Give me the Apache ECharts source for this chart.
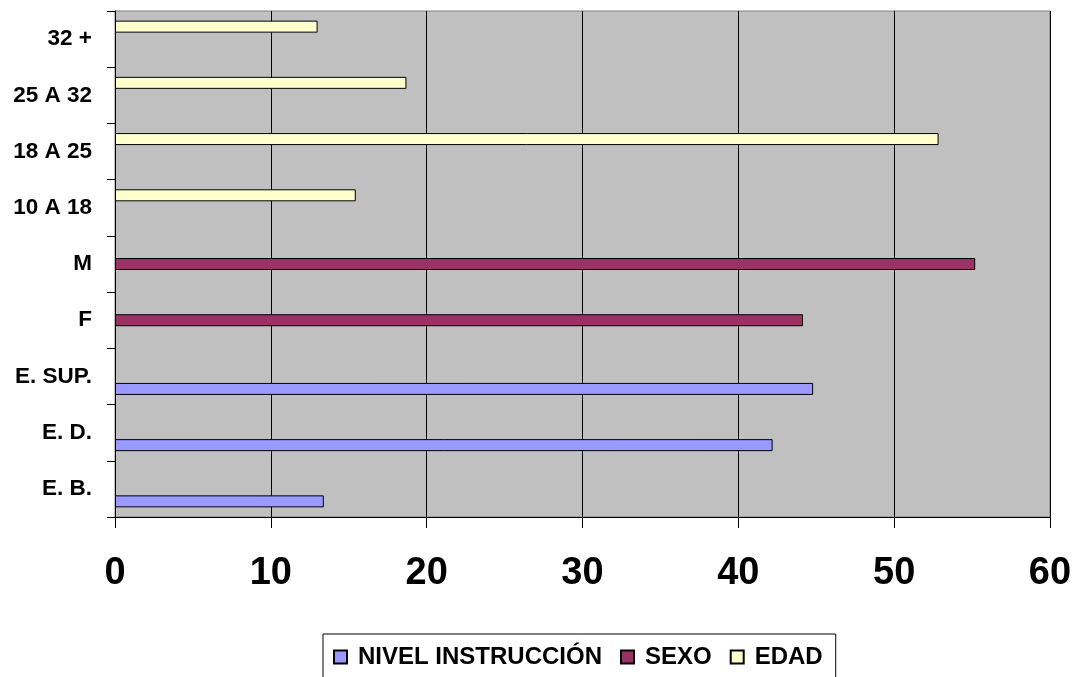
<!DOCTYPE html>
<html>
<head>
<meta charset="utf-8">
<script src="https://cdn.jsdelivr.net/npm/echarts@6/dist/echarts.min.js"></script>
<style>
html,body{margin:0;padding:0;background:#fff;}
#c{width:1077px;height:677px;}
</style>
</head>
<body>
<div id="c"></div>
<script>
const categories = ['E. B.', 'E. D.', 'E. SUP.', 'F', 'M', '10 A 18', '18 A 25', '25 A 32', '32 +'];
const nivelInstruccion = [13.4, 42.2, 44.8, null, null, null, null, null, null];
const sexo = [null, null, null, 44.15, 55.2, null, null, null, null];
const edad = [null, null, null, null, null, 15.45, 52.85, 18.7, 13.0];
const xTicks = [0, 10, 20, 30, 40, 50, 60];
const seriesNames = ['NIVEL INSTRUCCIÓN', 'SEXO', 'EDAD'];

const FONT = 'Arial, "Liberation Sans", sans-serif';
const chart = echarts.init(document.getElementById('c'), null, {renderer: 'canvas'});
function bar(name, data, color) {
  return {
    name: name, type: 'bar', data: data,
    barWidth: 12, barGap: '4%',
    itemStyle: {color: color, borderColor: '#000', borderWidth: 1}
  };
}
chart.setOption({
  animation: false,
  backgroundColor: '#fff',
  grid: {left: 115, right: 27, top: 11, bottom: 160, show: true,
         backgroundColor: '#C0C0C0', borderColor: '#808080', borderWidth: 1},
  legend: {
    data: seriesNames,
    top: 634, left: 323,
    padding: [9, 13, 10, 10],
    borderColor: '#000', borderWidth: 1,
    itemWidth: 13, itemHeight: 13, itemGap: 18,
    icon: 'rect',
    textStyle: {fontFamily: FONT, fontWeight: 'bold', fontSize: 24, lineHeight: 28, color: '#000', padding: [0,0,0,6]}
  },
  xAxis: {
    type: 'value', min: xTicks[0], max: xTicks[xTicks.length-1], interval: 10,
    axisLine: {show: true, lineStyle: {color: '#000', width: 1}},
    axisTick: {show: true, length: 11, lineStyle: {color: '#000'}},
    splitLine: {show: true, lineStyle: {color: '#000', width: 1}},
    axisLabel: {fontFamily: FONT, fontWeight: 'bold', fontSize: 38, color: '#000', margin: 38}
  },
  yAxis: {
    type: 'category', data: categories,
    axisLine: {show: true, lineStyle: {color: '#000', width: 1}},
    axisTick: {show: true, length: 8, lineStyle: {color: '#000'}},
    axisLabel: {fontFamily: FONT, fontWeight: 'bold', fontSize: 22.5, color: '#000', margin: 23}
  },
  series: [
    bar('EDAD', edad, '#FFFFCC'),
    bar('SEXO', sexo, '#993366'),
    bar('NIVEL INSTRUCCIÓN', nivelInstruccion, '#9999FF')
  ]
});
</script>
</body>
</html>
